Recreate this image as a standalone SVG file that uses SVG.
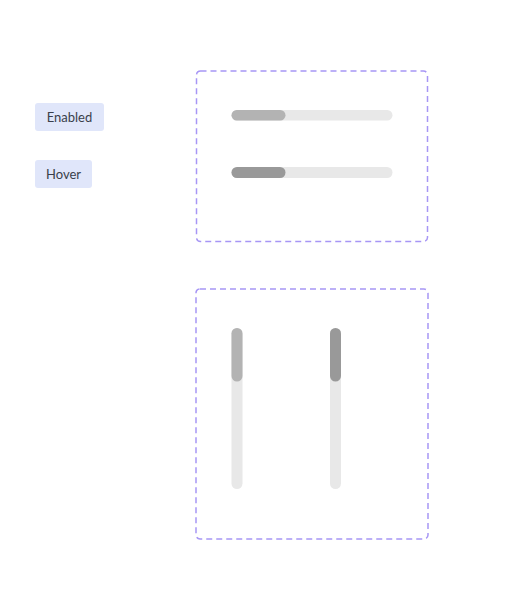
<svg xmlns="http://www.w3.org/2000/svg" width="514" height="592" viewBox="0 0 514 592">
<style>
.frame{fill:none;stroke:#a796f5;stroke-width:1.5;stroke-dasharray:6 4}
.lbl rect{fill:#e0e6fa}
.lbl text{font-family:Lato,"Noto Sans",sans-serif;font-size:13px;fill:#3a3f4b}
.track{fill:#e8e8e8}
.thumb{fill:#b3b3b3}
.thumbh{fill:#999999}
</style>
<rect width="514" height="592" fill="#ffffff"/>
<g id="label-enabled" class="lbl">
<rect x="35" y="103" width="69" height="28" rx="3"/>
<text x="69.5" y="121.5" text-anchor="middle">Enabled</text>
</g>
<g id="label-hover" class="lbl">
<rect x="35" y="160" width="57" height="28" rx="3"/>
<text x="63.5" y="178.5" text-anchor="middle">Hover</text>
</g>
<g id="horizontal-frame">
<rect class="frame" x="196.5" y="71" width="231" height="170.5" rx="4"/>
</g>
<g id="h-slider-enabled">
<rect class="track" x="231.5" y="110" width="161" height="10.5" rx="5.25"/>
<rect class="thumb" x="231.5" y="110" width="54" height="10.5" rx="5.25"/>
</g>
<g id="h-slider-hover">
<rect class="track" x="231.5" y="167" width="161" height="11" rx="5.5"/>
<rect class="thumbh" x="231.5" y="167" width="54" height="11" rx="5.5"/>
</g>
<g id="vertical-frame">
<rect class="frame" x="196" y="289" width="232" height="250" rx="4"/>
</g>
<g id="v-slider-enabled">
<rect class="track" x="231.5" y="328" width="11" height="161" rx="5.5"/>
<rect class="thumb" x="231.5" y="328" width="11" height="53.5" rx="5.5"/>
</g>
<g id="v-slider-hover">
<rect class="track" x="330" y="328" width="11" height="161" rx="5.5"/>
<rect class="thumbh" x="330" y="328" width="11" height="53.5" rx="5.5"/>
</g>
<g id="connectors"></g>
</svg>
